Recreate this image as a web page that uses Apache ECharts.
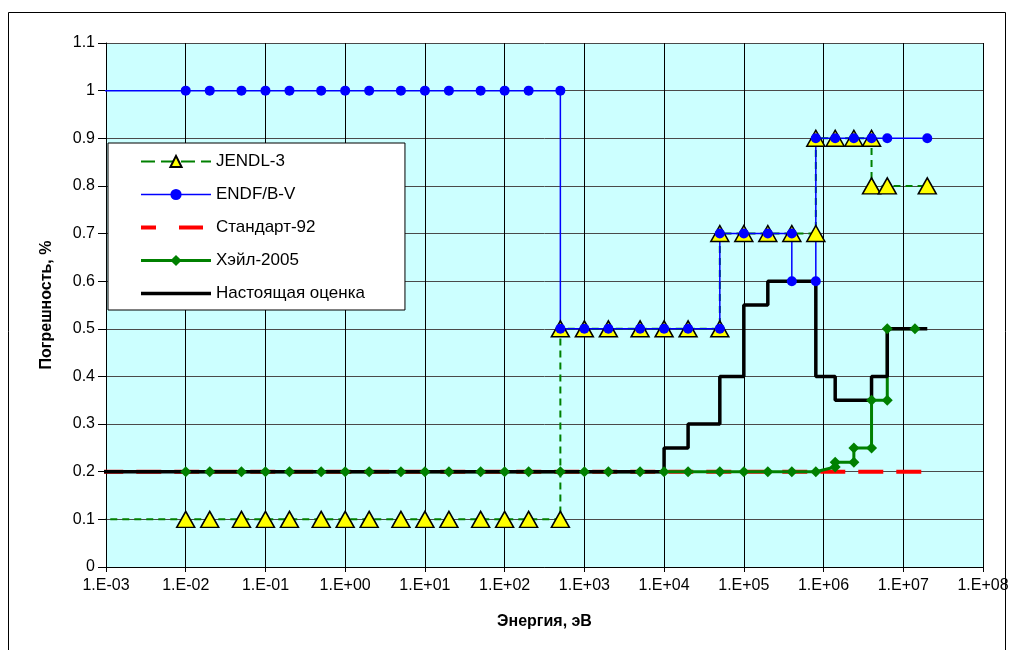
<!DOCTYPE html>
<html>
<head>
<meta charset="utf-8">
<script src="https://cdn.jsdelivr.net/npm/echarts@6/dist/echarts.min.js"></script>
<style>
  html, body { margin: 0; padding: 0; background: #fff; }
  #chart { width: 1014px; height: 650px; }
</style>
</head>
<body>
<div id="chart"></div>
<script>
// Энергетические точки (эВ) и погрешности (%) для каждой оценки.
// Повторяющаяся энергия задаёт вертикальный шаг ступенчатой кривой.
const jendlE = [8e-4, 1e-2, 2e-2, 5e-2, 0.1, 0.2, 0.5, 1, 2, 5, 10, 20, 50, 100, 200, 500,
                500, 1e3, 2e3, 5e3, 1e4, 2e4, 5e4,
                5e4, 1e5, 2e5, 4e5, 8e5,
                8e5, 1.4e6, 2.4e6, 4e6,
                4e6, 6.3e6, 2e7];
const jendlV = [0.1, 0.1, 0.1, 0.1, 0.1, 0.1, 0.1, 0.1, 0.1, 0.1, 0.1, 0.1, 0.1, 0.1, 0.1, 0.1,
                0.5, 0.5, 0.5, 0.5, 0.5, 0.5, 0.5,
                0.7, 0.7, 0.7, 0.7, 0.7,
                0.9, 0.9, 0.9, 0.9,
                0.8, 0.8, 0.8];

const endfE = [8e-4, 1e-2, 2e-2, 5e-2, 0.1, 0.2, 0.5, 1, 2, 5, 10, 20, 50, 100, 200, 500,
               500, 1e3, 2e3, 5e3, 1e4, 2e4, 5e4,
               5e4, 1e5, 2e5, 4e5,
               4e5, 8e5,
               8e5, 1.4e6, 2.4e6, 4e6, 6.3e6, 2e7];
const endfV = [1, 1, 1, 1, 1, 1, 1, 1, 1, 1, 1, 1, 1, 1, 1, 1,
               0.5, 0.5, 0.5, 0.5, 0.5, 0.5, 0.5,
               0.7, 0.7, 0.7, 0.7,
               0.6, 0.6,
               0.9, 0.9, 0.9, 0.9, 0.9, 0.9];

const std92E = [8e-4, 2e7];
const std92V = [0.2, 0.2];

const hale05E = [1e-2, 2e-2, 5e-2, 0.1, 0.2, 0.5, 1, 2, 5, 10, 20, 50, 100, 200, 500,
                 1e3, 2e3, 5e3, 1e4, 2e4, 5e4, 1e5, 2e5, 4e5, 8e5,
                 1.4e6, 1.4e6, 2.4e6, 2.4e6, 4e6, 4e6, 6.3e6, 6.3e6, 1.4e7];
const hale05V = [0.2, 0.2, 0.2, 0.2, 0.2, 0.2, 0.2, 0.2, 0.2, 0.2, 0.2, 0.2, 0.2, 0.2, 0.2,
                 0.2, 0.2, 0.2, 0.2, 0.2, 0.2, 0.2, 0.2, 0.2, 0.2,
                 0.21, 0.22, 0.22, 0.25, 0.25, 0.35, 0.35, 0.5, 0.5];

const presentE = [8e-4, 1e4, 1e4, 2e4, 2e4, 5e4, 5e4, 1e5, 1e5, 2e5, 2e5, 8e5, 8e5,
                  1.4e6, 1.4e6, 4e6, 4e6, 6.3e6, 6.3e6, 2e7];
const presentV = [0.2, 0.2, 0.25, 0.25, 0.3, 0.3, 0.4, 0.4, 0.55, 0.55, 0.6, 0.6, 0.4,
                  0.4, 0.35, 0.35, 0.4, 0.4, 0.5, 0.5];

const xTickExps = [-3, -2, -1, 0, 1, 2, 3, 4, 5, 6, 7, 8];
const yTicks = [0, 0.1, 0.2, 0.3, 0.4, 0.5, 0.6, 0.7, 0.8, 0.9, 1, 1.1];

const X_MIN = Math.pow(10, xTickExps[0]);
const X_MAX = Math.pow(10, xTickExps[xTickExps.length - 1]);
const FONT = '"Liberation Sans", Arial, sans-serif';

// Points left of the axis start only extend the line; they carry no marker.
function pairs(xs, ys) {
  return xs.map((x, i) => x < X_MIN ? { value: [x, ys[i]], symbol: 'none' } : [x, ys[i]]);
}

function expLabel(v) {
  const e = Math.round(Math.log10(v));
  const a = Math.abs(e);
  return '1.E' + (e < 0 ? '-' : '+') + (a < 10 ? '0' : '') + a;
}

const chart = echarts.init(document.getElementById('chart'), null, { renderer: 'canvas' });

const noMarker = { opacity: 0, borderWidth: 0 };

chart.setOption({
  animation: false,
  backgroundColor: '#ffffff',
  textStyle: { fontFamily: FONT, color: '#000' },
  graphic: [{
    type: 'rect',
    shape: { x: 8.5, y: 12.5, width: 997, height: 660 },
    style: { fill: 'none', stroke: '#000', lineWidth: 1 },
    silent: true,
    z: -1
  }],
  grid: {
    left: 106, right: 31, top: 43, bottom: 83,
    show: true,
    backgroundColor: '#CCFFFF',
    borderWidth: 0
  },
  legend: {
    orient: 'vertical',
    left: 108, top: 143,
    padding: [10, 40, 8, 31],
    itemWidth: 70,
    itemHeight: 14,
    itemGap: 16,
    backgroundColor: '#ffffff',
    borderColor: '#000',
    borderWidth: 1,
    textStyle: { fontFamily: FONT, fontSize: 17, color: '#000' },
    data: [
      { name: 'JENDL-3', lineStyle: { width: 2, type: [14, 6] } },
      { name: 'ENDF/B-V', lineStyle: { width: 1.5 } },
      { name: 'Стандарт-92', lineStyle: { width: 4, type: [15, 23, 24, 20] }, itemStyle: noMarker },
      { name: 'Хэйл-2005', lineStyle: { width: 3 } },
      { name: 'Настоящая оценка', lineStyle: { width: 3.5 }, itemStyle: noMarker }
    ]
  },
  xAxis: {
    type: 'log',
    logBase: 10,
    min: X_MIN,
    max: X_MAX,
    interval: 1,
    splitNumber: xTickExps.length - 1,
    name: 'Энергия, эВ',
    nameLocation: 'middle',
    nameGap: 47,
    nameTextStyle: { fontFamily: FONT, fontSize: 16, fontWeight: 'bold', color: '#000' },
    axisLine: { show: true, onZero: false, lineStyle: { color: '#000', width: 1 } },
    axisTick: { show: true, inside: false, length: 5, lineStyle: { color: '#000' } },
    axisLabel: { margin: 11, fontSize: 16, color: '#000', fontFamily: FONT, formatter: expLabel },
    splitLine: { show: true, lineStyle: { color: '#000', width: 1 } },
    minorTick: { show: false },
    minorSplitLine: { show: false }
  },
  yAxis: {
    type: 'value',
    min: yTicks[0],
    max: yTicks[yTicks.length - 1],
    interval: 0.1,
    name: 'Погрешность, %',
    nameLocation: 'middle',
    nameGap: 51,
    nameTextStyle: { fontFamily: FONT, fontSize: 16, fontWeight: 'bold', color: '#000' },
    axisLine: { show: true, lineStyle: { color: '#000', width: 1 } },
    axisTick: { show: true, inside: false, length: 8, lineStyle: { color: '#000' } },
    axisLabel: { margin: 11, fontSize: 16, color: '#000', fontFamily: FONT,
                 formatter: v => String(Math.round(v * 10) / 10) },
    splitLine: { show: true, lineStyle: { color: '#4a4a4a', width: 1 } }
  },
  series: [
    {
      name: 'JENDL-3',
      type: 'line',
      clip: false,
      data: pairs(jendlE, jendlV),
      symbol: 'triangle',
      symbolSize: [18, 16],
      lineStyle: { color: '#008000', width: 2, type: [7, 5] },
      itemStyle: { color: '#FFFF00', borderColor: '#000', borderWidth: 1.5 }
    },
    {
      name: 'ENDF/B-V',
      type: 'line',
      clip: false,
      data: pairs(endfE, endfV),
      symbol: 'circle',
      symbolSize: 10,
      lineStyle: { color: '#0000FF', width: 1.5 },
      itemStyle: { color: '#0000FF', borderWidth: 0 }
    },
    {
      name: 'Стандарт-92',
      type: 'line',
      clip: false,
      data: pairs(std92E, std92V),
      symbol: 'none',
      lineStyle: { color: '#FF0000', width: 4, type: [25, 13] },
      itemStyle: { color: '#FF0000' }
    },
    {
      name: 'Хэйл-2005',
      type: 'line',
      clip: false,
      data: pairs(hale05E, hale05V),
      symbol: 'diamond',
      symbolSize: 11,
      lineStyle: { color: '#008000', width: 3 },
      itemStyle: { color: '#008000', borderWidth: 0 }
    },
    {
      name: 'Настоящая оценка',
      type: 'line',
      clip: false,
      data: pairs(presentE, presentV),
      symbol: 'none',
      lineStyle: { color: '#000000', width: 3.5 },
      itemStyle: { color: '#000000' }
    }
  ]
});
</script>
</body>
</html>
